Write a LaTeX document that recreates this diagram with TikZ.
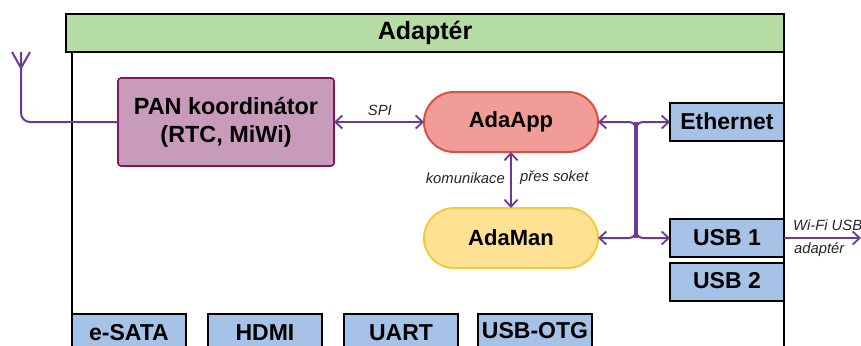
\documentclass[tikz,border=0pt]{standalone}
\usepackage{fontspec}
\setmainfont{Liberation Sans}
\usetikzlibrary{arrows.meta,shapes.misc}
\definecolor{barG}{HTML}{B5DDA3}
\definecolor{blueB}{HTML}{A6C2E6}
\definecolor{pan}{HTML}{C99BBB}
\definecolor{panE}{HTML}{85145F}
\definecolor{appF}{HTML}{F29C98}
\definecolor{appE}{HTML}{DB4F45}
\definecolor{manF}{HTML}{FFE194}
\definecolor{manE}{HTML}{F5C93A}
\definecolor{conn}{HTML}{6A3A94}
\tikzset{
  x=1pt,y=-1pt,
  port/.style={draw=black,line width=2pt,outer sep=0pt,fill=blueB,minimum height=38pt,minimum width=114pt,inner sep=0pt,font=\fontsize{23}{25}\selectfont\bfseries,anchor=north west},
  pill/.style={rounded rectangle,line width=2pt,outer sep=0pt,minimum width=174pt,minimum height=60pt,inner sep=0pt,font=\fontsize{22}{25}\selectfont\bfseries},
  wire/.style={draw=conn,line width=2pt},
  barb/.tip={Straight Barb[length=7pt,width=13pt,line width=1.8pt]},
  link/.style={wire,barb-barb},
  tag/.style={font=\fontsize{14.8}{16}\selectfont\itshape,inner sep=0pt,text=black!85}
}
\begin{document}
\begin{tikzpicture}
\useasboundingbox (0,0) rectangle (861,345);
\clip (0,0) rectangle (861,345);
\fill[white] (0,0) rectangle (861,345);
% frame
\draw[black,line width=2pt] (72,52) -- (72,350);
\draw[black,line width=2pt] (784,52) -- (784,350);
% free coordinates
\coordinate (antTop) at (21,52);
\coordinate (antFoot) at (21,68);
\coordinate (antL) at (12,52);
\coordinate (antR) at (30,52);
\coordinate (antBend) at (21,122);
\coordinate (busT) at (636,122);
\coordinate (busB) at (636,238);
\coordinate (wifi) at (861,238);
% ports
\node[port] (esata) at (72,313.5) {e-SATA};
\node[port] (hdmi) at (208,313.5) {HDMI};
\node[port] (uart) at (344,313.5) {UART};
\node[port] (otg) at (478,313.5) {\raisebox{4pt}{USB-OTG}};
\node[port] (eth) at (670,103) {\raisebox{1pt}{Ethernet}};
\node[port] (usba) at (670,219) {\raisebox{2pt}{USB 1}};
\node[port] (usbb) at (670,263) {\raisebox{3pt}{USB 2}};
% title
\node[draw=black,line width=2pt,outer sep=0pt,fill=barG,minimum width=718pt,minimum height=38pt,inner sep=0pt,anchor=north west,font=\fontsize{25}{27}\selectfont\bfseries] (title) at (66,14) {Adaptér};
% main nodes
\node[draw=panE,fill=pan,line width=1.6pt,outer sep=0pt,rounded corners=3pt,minimum width=216pt,minimum height=88pt,inner sep=0pt,anchor=north west,align=center,font=\fontsize{23.4}{28}\selectfont\bfseries] (pan) at (118,78) {PAN koordinátor\\(RTC, MiWi)};
\node[pill,draw=appE,fill=appF] (app) at (511,122) {AdaApp};
\node[pill,draw=manE,fill=manF] (man) at (511,238) {AdaMan};
% antenna
\draw[wire] (antL) -- (antFoot) -- (antR);
\draw[wire,rounded corners=9pt] (antTop) -- (antBend) -- (pan.west);
% links
\draw[link] (pan.east) -- node[tag,above=5pt,pos=.51] (spi) {SPI} (app.west);
\draw[link] (app.south) -- (man.north);
\node[tag,anchor=east] (kom) at (505,178) {komunikace};
\node[tag,anchor=west] (soket) at (520,178) {přes soket};
\draw[wire,line width=3.4pt] (busT) -- (busB);
\draw[wire,barb-,rounded corners=7pt] (app.east) -- (busT) -- (636,131);
\draw[wire,-barb,rounded corners=7pt] (636,131) -- (busT) -- (eth.west);
\draw[wire,barb-,rounded corners=7pt] (man.east) -- (busB) -- (636,229);
\draw[wire,-barb,rounded corners=7pt] (636,229) -- (busB) -- (usba.west);
\draw[wire,-barb] (usba.east) -- (wifi);
\node[tag,anchor=west] (wf) at (793,225) {Wi-Fi USB};
\node[tag,anchor=west] (ad) at (794,250) {adaptér};
\end{tikzpicture}
\end{document}
